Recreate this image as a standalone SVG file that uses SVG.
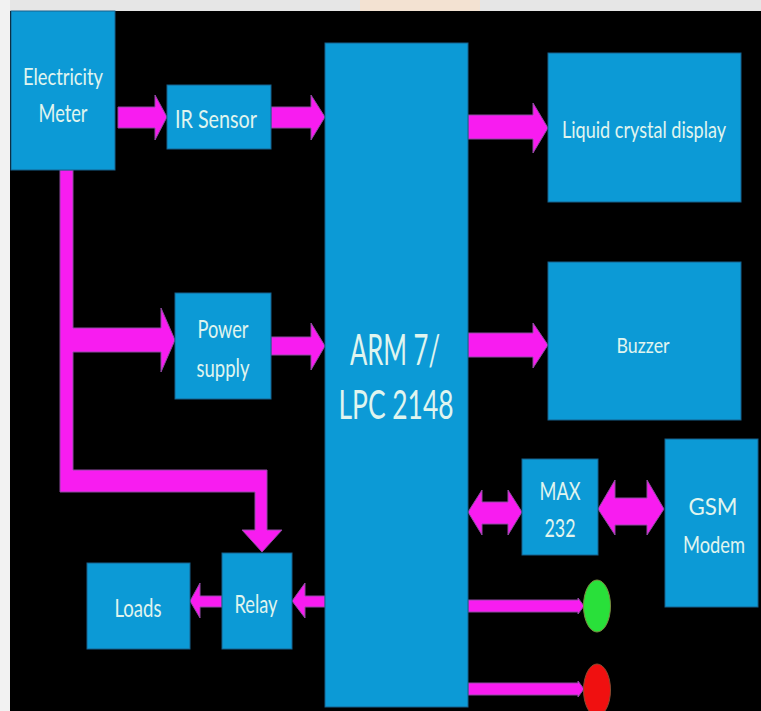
<svg xmlns="http://www.w3.org/2000/svg" width="761" height="711" viewBox="0 0 761 711">
<defs>
<style>
.box{fill:#0c9ad6;stroke:#17618c;stroke-width:1}
.t{font-family:Lato,"Open Sans","Liberation Sans",sans-serif;fill:#e0f5ef;text-anchor:middle}
.arr{fill:#f81cf0;stroke:#8e4aa0;stroke-width:1}
</style>
</defs>
<rect x="0" y="0" width="761" height="711" fill="#000"/>
<rect x="0" y="0" width="761" height="11" fill="#e6e6e6"/>
<rect x="0" y="0" width="10" height="711" fill="#f2f2f2"/>
<rect x="360" y="0" width="120" height="11" fill="#f3e2d2"/>

<g id="connectors">
<polygon class="arr" points="118,107 155,107 155,95 167,117 155,140 155,128 118,128"/>
<polygon class="arr" points="271,107 311,107 311,95 325,117 311,140 311,128 271,128"/>
<polygon class="arr" points="468,115 533,115 533,103 548,128 533,153 533,139 468,139"/>
<polygon class="arr" points="468,333 533,333 533,323 548,345 533,368 533,357 468,357"/>
<polygon class="arr" points="60,170 73,170 73,328 161,328 161,308 175,340 161,372 161,352 73,352 73,470 267,470 267,530 282,530 262,552 242,530 255,530 255,492 60,492"/>
<polygon class="arr" points="271,337 311,337 311,323 325,346 311,370 311,355 271,355"/>
<polygon class="arr" points="222,596 200,596 200,583 190,601 200,618 200,607 222,607"/>
<polygon class="arr" points="325,596 305,596 305,583 292,601 305,618 305,607 325,607"/>
<polygon class="arr" points="468,512 482,490 482,502 508,502 508,490 522,512 508,535 508,524 482,524 482,535"/>
<polygon class="arr" points="598,509 615,480 615,498 647,498 647,480 664,509 647,535 647,525 615,525 615,535"/>
<polygon class="arr" points="468,600 578,600 578,598 584,606 578,614 578,612 468,612"/>
<polygon class="arr" points="468,683 578,683 578,681 584,689 578,697 578,695 468,695"/>
</g>

<g id="meter"><rect class="box" x="11" y="11" width="104" height="159"/>
<text class="t" x="63" y="85" font-size="24" textLength="80" lengthAdjust="spacingAndGlyphs">Electricity</text>
<text class="t" x="63" y="122" font-size="25" textLength="49" lengthAdjust="spacingAndGlyphs">Meter</text></g>
<g id="ir"><rect class="box" x="167" y="85" width="104" height="64"/>
<text class="t" x="216" y="128" font-size="25" textLength="82" lengthAdjust="spacingAndGlyphs">IR Sensor</text></g>
<g id="power"><rect class="box" x="175" y="293" width="96" height="106"/>
<text class="t" x="223" y="338" font-size="25" textLength="51" lengthAdjust="spacingAndGlyphs">Power</text>
<text class="t" x="223" y="377" font-size="25" textLength="53" lengthAdjust="spacingAndGlyphs">supply</text></g>
<g id="arm"><rect class="box" x="325" y="43" width="143" height="664"/>
<text class="t" x="395" y="365" font-size="42" textLength="90" lengthAdjust="spacingAndGlyphs">ARM 7/</text>
<text class="t" x="396" y="419" font-size="41" textLength="115" lengthAdjust="spacingAndGlyphs">LPC 2148</text></g>
<g id="lcd"><rect class="box" x="548" y="53" width="193" height="149"/>
<text class="t" x="644" y="138" font-size="24" textLength="164" lengthAdjust="spacingAndGlyphs">Liquid crystal display</text></g>
<g id="buzzer"><rect class="box" x="548" y="262" width="193" height="158"/>
<text class="t" x="643" y="353" font-size="22" textLength="53" lengthAdjust="spacingAndGlyphs">Buzzer</text></g>
<g id="max"><rect class="box" x="522" y="459" width="76" height="96"/>
<text class="t" x="560" y="500" font-size="25" textLength="41" lengthAdjust="spacingAndGlyphs">MAX</text>
<text class="t" x="560" y="537" font-size="25" textLength="31" lengthAdjust="spacingAndGlyphs">232</text></g>
<g id="gsm"><rect class="box" x="665" y="439" width="93" height="168"/>
<text class="t" x="713" y="515" font-size="24" textLength="49" lengthAdjust="spacingAndGlyphs">GSM</text>
<text class="t" x="714" y="553" font-size="24" textLength="62" lengthAdjust="spacingAndGlyphs">Modem</text></g>
<g id="relay"><rect class="box" x="222" y="553" width="70" height="96"/>
<text class="t" x="256" y="613" font-size="25" textLength="43" lengthAdjust="spacingAndGlyphs">Relay</text></g>
<g id="loads"><rect class="box" x="87" y="563" width="103" height="86"/>
<text class="t" x="138" y="617" font-size="25" textLength="47" lengthAdjust="spacingAndGlyphs">Loads</text></g>
<g id="led-green"><ellipse cx="597" cy="606" rx="13.5" ry="26" fill="#29e03a" stroke="#7a8a40" stroke-width="1"/></g>
<g id="led-red"><ellipse cx="597" cy="690" rx="13.5" ry="26" fill="#f01010" stroke="#8a4a30" stroke-width="1"/></g>
</svg>
